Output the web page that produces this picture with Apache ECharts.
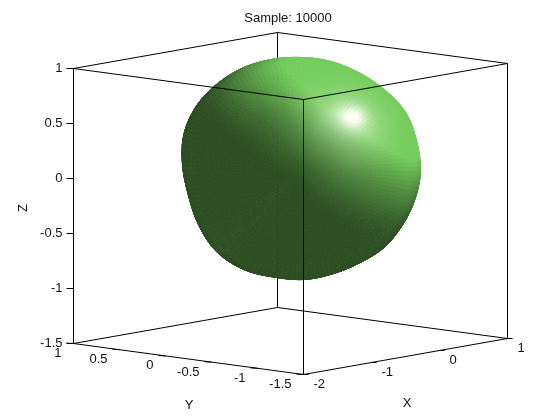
<!DOCTYPE html>
<html><head><meta charset="utf-8">
<style>html,body{margin:0;padding:0;background:#fff}#c{width:560px;height:420px}</style>
<script src="https://cdn.jsdelivr.net/npm/echarts@6/dist/echarts.min.js"></script>
</head><body><div id="c"></div>
<script>
// ---- values ----
var titleText = 'Sample: 10000';
var xTicks = [-2,-1,0,1];
var yTicks = [1,0.5,0,-0.5,-1,-1.5];
var zTicks = [1,0.5,0,-0.5,-1,-1.5];
var blobCentre = [-0.5,-0.37,0.08];
// surface radius, one value per 15 deg around the view axis, per ring away from it
var radiusAtPole = 1.0;
var radiusRing30 = [1.006,1.006,1.006,1.006,1.005,1.005,1.004,1.004,1.005,1.006,1.007,1.007,1.007,1.007,1.007,1.007,1.006,1.005,1.004,1.003,1.003,1.004,1.005,1.005];
var radiusRing60 = [1.03,1.035,1.035,1.03,1.015,1.00,0.995,1.005,1.025,1.05,1.065,1.06,1.05,1.05,1.07,1.095,1.08,1.04,1.015,0.995,0.985,1.00,1.01,1.02];
var radiusRim    = [1.04,1.05,1.065,1.04,1.02,1.01,1.00,1.005,1.02,1.035,1.055,1.06,1.04,1.03,1.055,1.08,1.06,1.015,0.995,0.97,0.965,0.985,0.995,1.015];

// ---- projection of the box (orthographic view) ----
var ORIGIN=[303.5,374.5], EX=[68,-12], EY=[-92,-12.4], EZ=[0,-110];
function P(x,y,z){return [ORIGIN[0]+(x+2)*EX[0]+(y+1.5)*EY[0]+(z+1.5)*EZ[0],
                          ORIGIN[1]+(x+2)*EX[1]+(y+1.5)*EY[1]+(z+1.5)*EZ[1]];}
function norm(v){var l=Math.hypot(v[0],v[1],v[2]);return [v[0]/l,v[1]/l,v[2]/l];}
var VA=norm([EX[0],EY[0],EZ[0]]), VB=norm([-EX[1],-EY[1],-EZ[1]]);
var VV=[VA[1]*VB[2]-VA[2]*VB[1],VA[2]*VB[0]-VA[0]*VB[2],VA[0]*VB[1]-VA[1]*VB[0]];

var rings=[null,radiusRing30,radiusRing60,radiusRim];
function ringVal(k,j){var n=radiusRim.length;
  if(k<0){k=-k;j+=n/2;}            // continue straight across the pole
  k=Math.min(3,k);if(k===0)return radiusAtPole;return rings[k][((j%n)+n)%n];}
function cr(a,b,c,d,t){return 0.5*(2*b+(c-a)*t+(2*a-5*b+4*c-d)*t*t+(3*b-a-3*c+d)*t*t*t);}
function radius(beta,alpha){
  var n=radiusRim.length,fj=alpha/(2*Math.PI)*n,j=Math.floor(fj),tj=fj-j;
  var fk=beta/(Math.PI/6),k=Math.min(2,Math.floor(fk)),tk=fk-k,row=[];
  for(var q=-1;q<=2;q++){row.push(cr(ringVal(k+q,j-1),ringVal(k+q,j),ringVal(k+q,j+1),ringVal(k+q,j+2),tj));}
  return cr(row[0],row[1],row[2],row[3],tk);
}
function camPoint(beta,alpha){var r=radius(beta,alpha);
  return [r*Math.sin(beta)*Math.cos(alpha),r*Math.sin(beta)*Math.sin(alpha),r*Math.cos(beta)];}
function toData(q){return [blobCentre[0]+q[0]*VA[0]+q[1]*VB[0]+q[2]*VV[0],
                           blobCentre[1]+q[0]*VA[1]+q[1]*VB[1]+q[2]*VV[1],
                           blobCentre[2]+q[0]*VA[2]+q[1]*VB[2]+q[2]*VV[2]];}
var LIGHT=norm([0.62,0.74,0.2]), HALF=norm([0.41,0.46,0.78]);
var AMB=[45,78,35], LIT=[116,205,92], SPEC=[255,255,245];
function shade(n){
  var d=Math.max(0,n[0]*LIGHT[0]+n[1]*LIGHT[1]+n[2]*LIGHT[2]);
  var h=Math.max(0,n[0]*HALF[0]+n[1]*HALF[1]+n[2]*HALF[2]);
  var s=Math.min(1,0.75*Math.pow(h,110)+0.35*Math.pow(h,16));
  var k=Math.pow(Math.min(1,d/0.72),1.6),c=[];
  for(var i=0;i<3;i++){var v=AMB[i]+(LIT[i]-AMB[i])*k;c.push(Math.round(Math.min(255,v+(SPEC[i]-v)*s)));}
  return 'rgb('+c.join(',')+')';
}
var NB=56,NA=144,facets=[];
for(var b=0;b<NB;b++)for(var a=0;a<NA;a++)facets.push([b,a]);
var dB=(Math.PI/2)/NB,dA=2*Math.PI/NA;
function renderFacet(params,api){
  var bi=api.value(0),ai=api.value(1);
  var b0=bi*dB,b1=Math.min(Math.PI/2,(bi+1)*dB),a0=ai*dA,a1=(ai+1)*dA,bm=(b0+b1)/2,am=(a0+a1)/2,e=0.01;
  var corners=[[b0,a0],[b1,a0],[b1,a1],[b0,a1]].map(function(c){var d=toData(camPoint(c[0],c[1]));return api.coord(P(d[0],d[1],d[2]));});
  var p1=camPoint(bm+e,am),p0=camPoint(bm-e,am),p3=camPoint(bm,am+e),p2=camPoint(bm,am-e);
  var u=[p1[0]-p0[0],p1[1]-p0[1],p1[2]-p0[2]],w=[p3[0]-p2[0],p3[1]-p2[1],p3[2]-p2[2]];
  var n=norm([u[1]*w[2]-u[2]*w[1],u[2]*w[0]-u[0]*w[2],u[0]*w[1]-u[1]*w[0]]);
  var c=shade(n);
  return {type:'polygon',shape:{points:corners},style:{fill:c,stroke:c,lineWidth:0.8},silent:true};
}
var backEdges=[[[1,1,-1.5],[1,1,1]],[[-2,1,-1.5],[1,1,-1.5]],[[1,-1.5,-1.5],[1,1,-1.5]],[[-2,1,1],[1,1,1]],[[1,-1.5,1],[1,1,1]]];
var frontEdges=[[[-2,1,-1.5],[-2,1,1]],[[1,-1.5,-1.5],[1,-1.5,1]],[[-2,-1.5,-1.5],[-2,-1.5,1]],
  [[-2,-1.5,-1.5],[-2,1,-1.5]],[[-2,-1.5,-1.5],[1,-1.5,-1.5]],[[-2,-1.5,1],[-2,1,1]],[[-2,-1.5,1],[1,-1.5,1]]];
function renderEdge(list){return function(params,api){var s=list[api.value(0)],A=api.coord(P.apply(null,s[0])),B=api.coord(P.apply(null,s[1]));
  return {type:'line',shape:{x1:A[0],y1:A[1],x2:B[0],y2:B[1]},style:{stroke:'#000',lineWidth:1},silent:true};};}
var tickMarks=[],labels=[];
var FONT='13px "Liberation Sans", Arial, sans-serif';
zTicks.forEach(function(z){var p=P(-2,1,z);tickMarks.push([p[0],p[1],p[0]-7,p[1]]);labels.push({x:p[0]-11,y:p[1],t:String(z),al:'right'});});
yTicks.forEach(function(y){var p=P(-2,y,-1.5);tickMarks.push([p[0],p[1],p[0]-7,p[1]-0.4]);labels.push({x:p[0]-12,y:p[1]+10,t:String(y),al:'right'});});
xTicks.forEach(function(x){var p=P(x,-1.5,-1.5);tickMarks.push([p[0],p[1],p[0]+5,p[1]]);labels.push({x:p[0]+10,y:p[1]+10,t:String(x),al:'left'});});
var axisNames=[{x:189,y:405,t:'Y',al:'center'},{x:407,y:403,t:'X',al:'center'},{x:23,y:208,t:'Z',al:'center',rot:Math.PI/2}];
labels=labels.concat(axisNames);
labels.push({x:288,y:18,t:titleText,al:'center'});
function ids(a){return a.map(function(_,i){return [i];});}
var chart=echarts.init(document.getElementById('c'),null,{renderer:'canvas'});
chart.setOption({
  animation:false,backgroundColor:'#fff',tooltip:{show:false},
  grid:{left:0,right:0,top:0,bottom:0},
  xAxis:{type:'value',min:0,max:560,show:false},
  yAxis:{type:'value',min:0,max:420,inverse:true,show:false},
  series:[
   {type:'custom',z:1,coordinateSystem:'cartesian2d',data:ids(backEdges),renderItem:renderEdge(backEdges),silent:true,clip:false},
   {type:'custom',z:2,coordinateSystem:'cartesian2d',data:facets,renderItem:renderFacet,silent:true,progressive:0,clip:false},
   {type:'custom',z:3,coordinateSystem:'cartesian2d',data:ids(frontEdges),renderItem:renderEdge(frontEdges),silent:true,clip:false},
   {type:'custom',z:3,coordinateSystem:'cartesian2d',data:ids(tickMarks),silent:true,clip:false,renderItem:function(p,api){var t=tickMarks[api.value(0)],A=api.coord([t[0],t[1]]),B=api.coord([t[2],t[3]]);
     return {type:'line',shape:{x1:A[0],y1:A[1],x2:B[0],y2:B[1]},style:{stroke:'#000',lineWidth:1},silent:true};}},
   {type:'custom',z:4,coordinateSystem:'cartesian2d',data:ids(labels),silent:true,clip:false,renderItem:function(p,api){var l=labels[api.value(0)],A=api.coord([l.x,l.y]);
     return {type:'text',x:A[0],y:A[1],rotation:l.rot||0,style:{x:0,y:0,text:l.t,font:FONT,fill:'#111',textAlign:l.al,textVerticalAlign:'middle'},silent:true};}}
  ]
});
</script></body></html>
